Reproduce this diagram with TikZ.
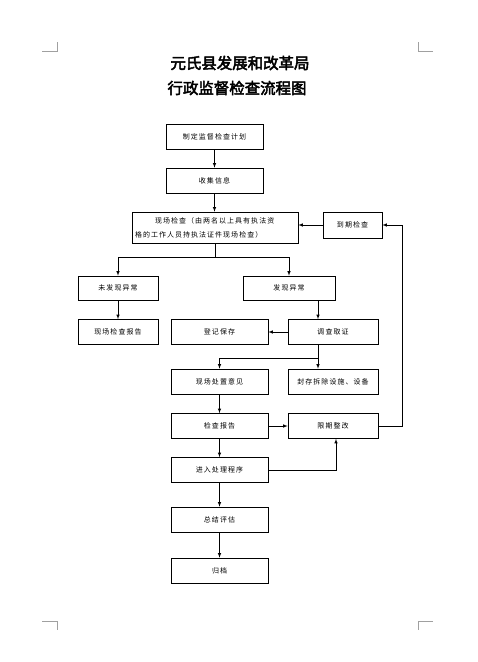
\documentclass[tikz,border=0pt]{standalone}
\usepackage{fontspec}
\usepackage{tikz}
\usetikzlibrary{positioning,arrows}
\newfontfamily\cjkbox{Noto Sans CJK SC}[LetterSpace=15]
\newfontfamily\cjktitle{Noto Sans CJK SC}[FakeBold=3]
\definecolor{cornergray}{HTML}{a0a0a0}
\tikzset{
    box/.style={draw, line width=0.6pt, minimum height=25bp, inner sep=0pt,
        font=\cjkbox\fontsize{7}{14}\selectfont},
    arr/.style={-latex, line width=0.6pt},
    ttl/.style={font=\cjktitle\fontsize{15.5}{18}\selectfont},
    corner/.style={draw=cornergray, line width=0.5pt}
}

\begin{document}
\begin{tikzpicture}[x=1bp, y=-1bp]
        \useasboundingbox (0,0) rectangle (478,662);
        % page corner marks
        \draw[corner] (42,51) -- (57,51) -- (57,42);
        \draw[corner] (433,51) -- (418,51) -- (418,42);
        \draw[corner] (42,621) -- (57,621) -- (57,630);
        \draw[corner] (433,621) -- (418,621) -- (418,630);

        % title
        \node[ttl] (title1) at (240,63) {元氏县发展和改革局};
        \node[ttl] (title2) at (237,88) {行政监督检查流程图};

        % main column
        \node[box, minimum width=97bp] (plan) at (214.5,136.5) {制定监督检查计划};
        \node[box, minimum width=97bp] (collect) at (214.5,180.5) {收集信息};
        \node[box, minimum width=166bp, minimum height=31bp, align=left, text width=160bp] (site) at (215,227.5)
            {\hspace*{20bp}现场检查（由两名以上具有执法资\\格的工作人员持执法证件现场检查）};
        \node[box, minimum width=59bp, minimum height=26bp] (due) at (352.5,225) {到期检查};

        % branches
        \node[box, minimum width=80bp, minimum height=24bp] (noabn) at (118,288) {未发现异常};
        \node[box, minimum width=92bp, minimum height=24bp] (abn) at (289,288) {发现异常};
        \node[box, minimum width=80bp] (report) at (118,332) {现场检查报告};
        \node[box, minimum width=97bp] (register) at (219.5,332) {登记保存};
        \node[box, minimum width=90bp] (invest) at (333,332) {调查取证};
        \node[box, minimum width=97bp] (dispose) at (219.5,381.5) {现场处置意见};
        \node[box, minimum width=90bp] (seal) at (333,381.5) {封存拆除设施、设备};
        \node[box, minimum width=97bp] (checkrep) at (219.5,426) {检查报告};
        \node[box, minimum width=90bp] (rectify) at (333,426) {限期整改};
        \node[box, minimum width=97bp] (process) at (219.5,470) {进入处理程序};
        \node[box, minimum width=97bp] (summary) at (219.5,519.5) {总结评估};
        \node[box, minimum width=97bp] (archive) at (219.5,570.5) {归档};

        % connectors
        \coordinate (fork1) at (215,257);
        \coordinate (fork2) at (318,358);
        \draw[arr] (plan) -- (collect);
        \draw[arr] (collect) -- (collect |- site.north);
        \draw[line width=0.6pt] (site.south) -- (fork1);
        \draw[arr] (fork1) -| (noabn.north);
        \draw[arr] (fork1) -| (abn.north);
        \draw[arr] (noabn) -- (report);
        \draw[arr] (abn.south -| fork2) -- (invest.north -| fork2);
        \draw[arr] (invest) -- (register);
        \draw[arr] (invest.south -| fork2) -- (seal.north -| fork2);
        \draw[arr] (fork2) -| (dispose.north);
        \draw[arr] (dispose) -- (checkrep);
        \draw[arr] (checkrep) -- (rectify);
        \draw[arr] (checkrep) -- (process);
        \draw[arr] (process.east) -| ([xshift=3bp]rectify.south);
        \draw[arr] (rectify.east) -- ++(24,0) |- (due.east);
        \draw[arr] (due.west) -- (due.west -| site.east);
        \draw[arr] (process) -- (summary);
        \draw[arr] (summary) -- (archive);
    \end{tikzpicture}
\end{document}
